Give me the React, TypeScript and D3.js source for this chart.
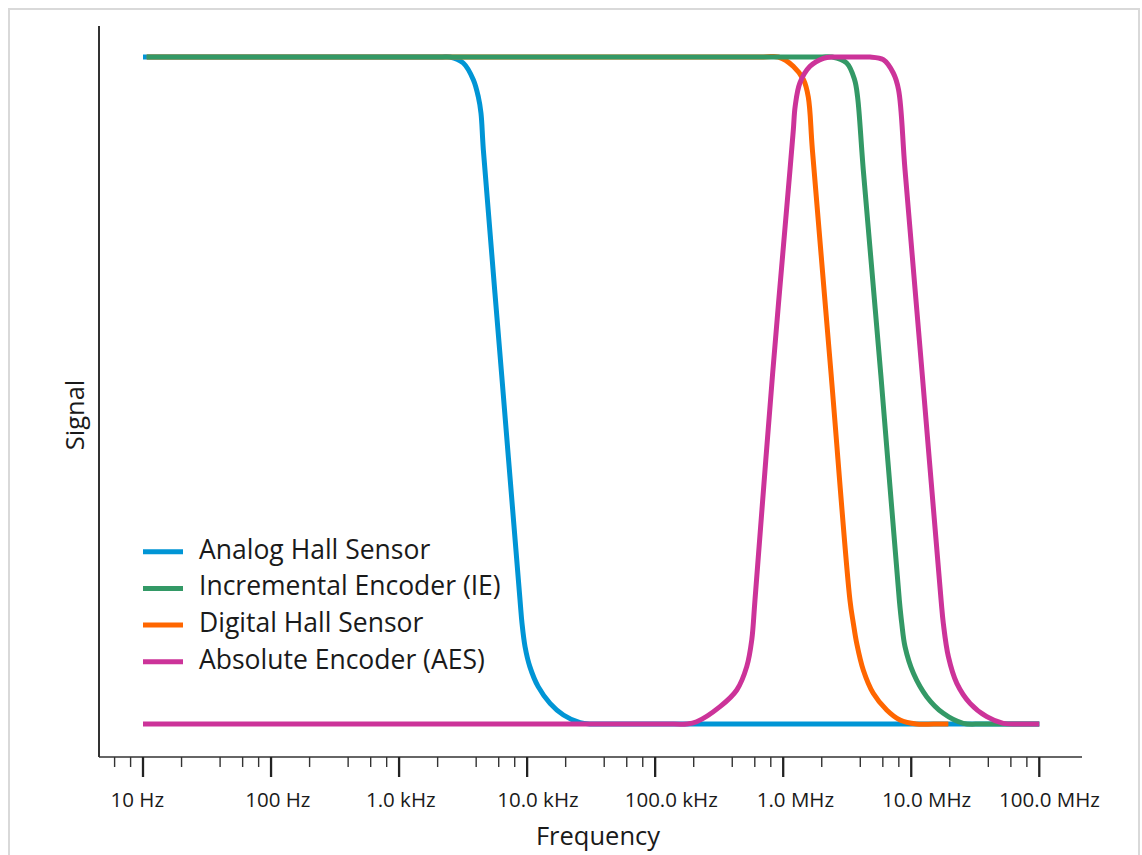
import React from "react";
import * as d3 from "d3";

// ---------- data ----------
const seriesNames = [
  "Analog Hall Sensor",
  "Incremental Encoder (IE)",
  "Digital Hall Sensor",
  "Absolute Encoder (AES)",
];

// Analog Hall Sensor (Hz, relative signal)
const analogFreq = [10, 2.09e3, 2.5e3, 3.17e3, 3.8e3, 4.16e3, 4.36e3, 4.55e3, 6.33e3, 8.8e3, 9.12e3, 9.63e3, 1.05e4, 1.22e4, 1.51e4, 1.92e4, 2.59e4, 3.21e4, 4e4, 1e8];
const analogSignal = [1, 1, 1, 0.991, 0.966, 0.94, 0.916, 0.861, 0.523, 0.186, 0.151, 0.116, 0.086, 0.056, 0.031, 0.0135, 0.002, 0, 0, 0];

// Incremental Encoder (IE)
const ieFreq = [10.7, 1.9e6, 2.41e6, 3.13e6, 3.61e6, 3.81e6, 4.22e6, 5.79e6, 8.07e6, 8.43e6, 8.94e6, 1.04e7, 1.32e7, 1.78e7, 2.55e7, 3.45e7, 4.2e7, 1e8];
const ieSignal = [1, 1, 1, 0.991, 0.966, 0.94, 0.831, 0.523, 0.186, 0.151, 0.116, 0.076, 0.041, 0.016, 0.001, 0, 0, 0];

// Digital Hall Sensor
const digitalFreq = [10.7, 7e5, 9.16e5, 1.2e6, 1.44e6, 1.57e6, 1.69e6, 2.37e6, 3.32e6, 3.53e6, 3.75e6, 4.22e6, 5.05e6, 6.43e6, 8.17e6, 1.1e7, 1.5e7, 1.95e7];
const digitalSignal = [1, 1, 1, 0.986, 0.966, 0.94, 0.861, 0.523, 0.186, 0.151, 0.121, 0.081, 0.046, 0.021, 0.006, 0, 0, 0];

// Absolute Encoder (AES)
const aesFreq = [10, 1.4e5, 1.76e5, 2.11e5, 3.21e5, 4.34e5, 5.19e5, 5.68e5, 6.02e5, 8.25e5, 1.13e6, 1.2e6, 1.24e6, 1.35e6, 1.62e6, 2.06e6, 2.45e6, 2.7e6, 4.4e6, 4.76e6, 6.05e6, 7.24e6, 7.96e6, 8.94e6, 1.22e7, 1.71e7, 1.78e7, 1.95e7, 2.27e7, 2.88e7, 3.89e7, 5.24e7, 7.07e7, 8.5e7, 1e8];
const aesSignal = [0, 0, 0, 0.0034, 0.026, 0.051, 0.086, 0.126, 0.186, 0.523, 0.831, 0.891, 0.926, 0.961, 0.986, 0.998, 1, 1, 1, 1, 0.996, 0.976, 0.951, 0.831, 0.523, 0.186, 0.151, 0.101, 0.061, 0.031, 0.011, 0.001, 0, 0, 0];

const majorTicks = [10, 1e2, 1e3, 1e4, 1e5, 1e6, 1e7, 1e8];
const tickLabels = ["10 Hz", "100 Hz", "1.0 kHz", "10.0 kHz", "100.0 kHz", "1.0 MHz", "10.0 MHz", "100.0 MHz"];
const minorMultipliers = [2, 4, 6, 8];

// ---------- layout ----------
const W = 1142;
const H = 855;
const left = 99;
const right = 1082;
const axisY = 757;
const yTop = 57;
const yBottom = 724;
const FONT = "'Open Sans', 'Noto Sans', sans-serif";
const colors = ["#0095d5", "#339966", "#ff6600", "#cc3399"];
const tickLabelDx = [-5.7, 6.8, 1.7, 10.8, 16.1, 12.2, 15.4, 10.2];

export default function App() {
  const x = d3.scaleLog().domain([4.532, 2.156e8]).range([left, right]);
  const y = d3.scaleLinear().domain([0, 1]).range([yBottom, yTop]);

  const line = d3
    .line<[number, number]>()
    .x((d) => x(d[0]))
    .y((d) => y(d[1]))
    .curve(d3.curveCatmullRom.alpha(0.5));

  const zip = (f: number[], s: number[]) => f.map((v, i) => [v, s[i]] as [number, number]);

  // draw order: analog, digital, IE, AES
  const drawn = [
    { data: zip(analogFreq, analogSignal), color: colors[0] },
    { data: zip(digitalFreq, digitalSignal), color: colors[2] },
    { data: zip(ieFreq, ieSignal), color: colors[1] },
    { data: zip(aesFreq, aesSignal), color: colors[3] },
  ];

  const [dMin] = x.domain();
  const minorTicks: number[] = [];
  for (let e = 0; e < 8; e++) {
    for (const m of minorMultipliers) {
      const v = m * Math.pow(10, e);
      if (v >= dMin && v <= 1e8) minorTicks.push(v);
    }
  }

  return (
    <svg
      width={W}
      height={H}
      style={{ position: "absolute", left: 0, top: 0, display: "block", background: "#fff" }}
      fontFamily={FONT}
    >
      <rect x={9} y={9} width={1130} height={900} fill="#fff" stroke="#d9d9d9" strokeWidth={2} />

      {/* axes */}
      <line x1={left} x2={left} y1={26} y2={axisY} stroke="#333" strokeWidth={2} />
      <line x1={left} x2={right} y1={axisY} y2={axisY} stroke="#333" strokeWidth={1.5} />

      {minorTicks.map((t, i) => (
        <line key={"mi" + i} x1={x(t)} x2={x(t)} y1={axisY} y2={axisY + 10} stroke="#333" strokeWidth={1.4} />
      ))}
      {majorTicks.map((t, i) => (
        <g key={"ma" + i}>
          <line x1={x(t)} x2={x(t)} y1={axisY} y2={axisY + 20} stroke="#222" strokeWidth={2.3} />
          <text x={x(t) + tickLabelDx[i]} y={806.5} textAnchor="middle" fontSize={20.5} fill="#1a1a1a">
            {tickLabels[i]}
          </text>
        </g>
      ))}

      <text x={598} y={845} textAnchor="middle" fontSize={25.5} fill="#1a1a1a">
        Frequency
      </text>
      <text transform={`translate(84,415) rotate(-90)`} textAnchor="middle" fontSize={25.5} fill="#1a1a1a">
        Signal
      </text>

      {/* series */}
      {drawn.map((s, i) => (
        <path key={"s" + i} d={line(s.data) || ""} fill="none" stroke={s.color} strokeWidth={5} strokeLinejoin="round" />
      ))}

      {/* legend */}
      {seriesNames.map((name, i) => {
        const ly = 551.7 + i * 36.7;
        return (
          <g key={"lg" + i}>
            <line x1={143} x2={183} y1={ly} y2={ly} stroke={colors[i]} strokeWidth={5} />
            <text x={199} y={ly + 7} fontSize={26.5} fill="#1a1a1a">
              {name}
            </text>
          </g>
        );
      })}
    </svg>
  );
}
